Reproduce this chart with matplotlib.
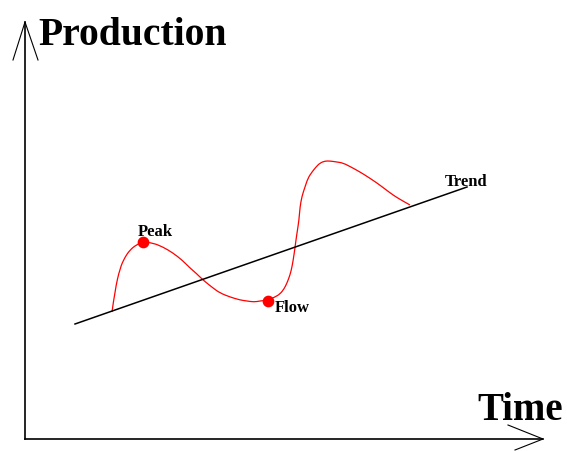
# Production over time sketch: axes arrows, wavy production curve and trend line
import matplotlib
matplotlib.use("Agg")
import matplotlib.pyplot as plt
from matplotlib.path import Path
from matplotlib.patches import PathPatch

# coordinates (pixel-like units, y grows downward)
curve_x = [112, 115, 120, 125, 130, 136, 143, 153, 163, 173, 182, 190, 197, 203, 213,
           220, 230, 240, 247, 254, 260, 268, 275, 280, 284, 287, 290, 292, 294, 296,
           297, 299, 300, 302, 305, 308, 312, 316, 320, 325, 330, 337, 343, 351, 360,
           368, 377, 385, 393, 401, 410]
curve_y = [312, 290, 268, 257, 250, 245, 242, 243, 247, 253, 260, 268, 274, 280, 288,
           293, 297, 300, 301, 302, 301, 300, 297, 294, 289, 283, 275, 267, 255, 240,
           233, 220, 207, 196, 187, 178, 172, 167, 163, 161, 161, 162, 163, 167, 172,
           177, 183, 189, 195, 200, 205]

trend_x = [75, 467]
trend_y = [324, 187]

marks_x = [143, 268]
marks_y = [242, 301]
marks_names = ["Peak", "Flow"]

axis_origin = (25, 439)
axis_x_end = 543
axis_y_end = 22

fig = plt.figure(figsize=(5.67, 4.51), dpi=100)
ax = fig.add_axes([0, 0, 1, 1])
ax.set_xlim(0, 567)
ax.set_ylim(451, 0)
ax.axis("off")

serif = ["Liberation Serif", "DejaVu Serif"]

# axes with open arrow heads
ox, oy = axis_origin
ax.plot([ox, ox], [oy, axis_y_end], color="black", lw=1.2)
ax.plot([ox - 12, ox, ox + 13], [axis_y_end + 38, axis_y_end, axis_y_end + 38], color="black", lw=0.8)
ax.plot([ox, axis_x_end], [oy, oy], color="black", lw=1.2)
ax.plot([axis_x_end - 35, axis_x_end, axis_x_end - 28], [oy - 14, oy, oy + 11], color="black", lw=0.8)

ax.text(38, 45, "Production", family=serif, weight="bold", fontsize=28.5, ha="left", va="baseline")
ax.text(477, 420, "Time", family=serif, weight="bold", fontsize=28, ha="left", va="baseline")

# trend line
ax.plot(trend_x, trend_y, color="black", lw=1.1)
ax.text(445, 186, "Trend", family=serif, weight="bold", fontsize=12, ha="left", va="baseline")

# production curve: read points used as quadratic control points for a smooth path
pts = list(zip(curve_x, curve_y))
verts = [pts[0]]
codes = [Path.MOVETO]
for i in range(1, len(pts) - 1):
    nxt = pts[i + 1] if i + 1 < len(pts) - 1 else pts[-1]
    end = nxt if nxt == pts[-1] else ((pts[i][0] + nxt[0]) / 2, (pts[i][1] + nxt[1]) / 2)
    verts += [pts[i], end]
    codes += [Path.CURVE3, Path.CURVE3]
ax.add_patch(PathPatch(Path(verts, codes), fill=False, edgecolor="red", lw=0.9))

ax.scatter(marks_x, marks_y, s=55, color="red", zorder=3)
ax.text(138, 236, marks_names[0], family=serif, weight="bold", fontsize=12, ha="left", va="baseline")
ax.text(275, 312, marks_names[1], family=serif, weight="bold", fontsize=12, ha="left", va="baseline")

fig.savefig("out.png", dpi=100)
